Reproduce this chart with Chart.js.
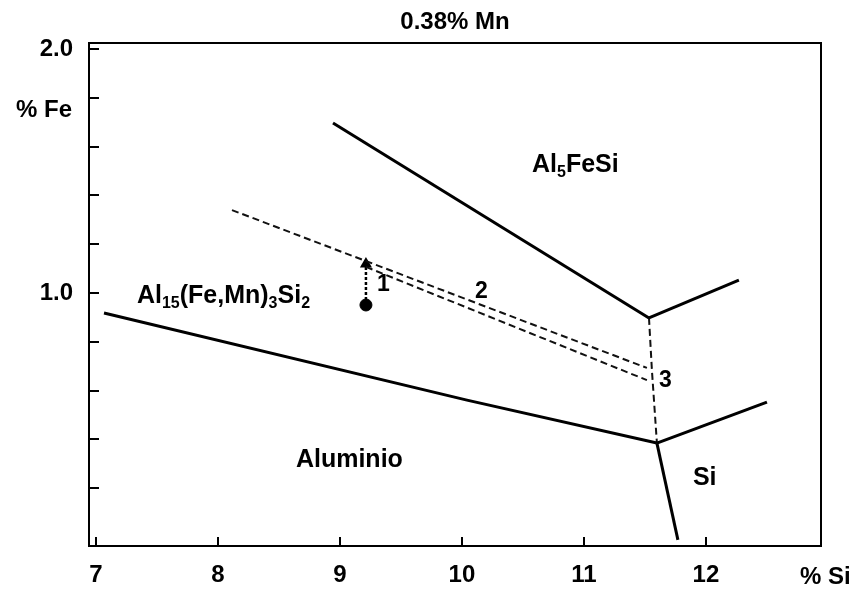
<!DOCTYPE html>
<html>
<head>
<meta charset="utf-8">
<script src="https://cdn.jsdelivr.net/npm/chart.js@4/dist/chart.umd.min.js"></script>
<style>
html,body{margin:0;padding:0;background:#fff;}
#wrap{width:858px;height:592px;position:relative;}
</style>
</head>
<body>
<div id="wrap"><canvas id="c" width="858" height="592"></canvas></div>
<script>
// ---- data ----
const xTicks = [7, 8, 9, 10, 11, 12];
const yTicks = [0.2, 0.4, 0.6, 0.8, 1.0, 1.2, 1.4, 1.6, 1.8, 2.0];
const yLabelled = [1.0, 2.0];

const lowerX = [7.066, 10.041, 11.598];
const lowerY = [0.918, 0.561, 0.385];
const siX = [11.598, 12.50];
const siY = [0.385, 0.553];
const eutX = [11.598, 11.77];
const eutY = [0.385, -0.012];
const upperX = [8.943, 11.533];
const upperY = [1.697, 0.898];
const upperRX = [11.533, 12.27];
const upperRY = [0.898, 1.053];
const valleyX = [11.533, 11.557, 11.598];
const valleyY = [0.898, 0.684, 0.385];
const path1X = [8.115, 11.516];
const path1Y = [1.340, 0.693];
const path2X = [9.213, 11.516];
const path2Y = [1.107, 0.643];
const alloyX = [9.213];
const alloyY = [0.951];
const arrowX = [9.213, 9.213];
const arrowY = [0.951, 1.119];

const titleText = '0.38% Mn';
// region labels: segments [text, isSubscript]
const regionLabels = [
  {x: 10.574, y: 1.496, parts: [['Al',0],['5',1],['FeSi',0]]},
  {x: 7.336, y: 0.959, parts: [['Al',0],['15',1],['(Fe,Mn)',0],['3',1],['Si',0],['2',1]]},
  {x: 8.639, y: 0.287, parts: [['Aluminio',0]]},
  {x: 11.893, y: 0.213, parts: [['Si',0]]}
];
const pathLabels = [
  {x: 9.303, y: 1.008, t: '1'},
  {x: 10.107, y: 0.980, t: '2'},
  {x: 11.615, y: 0.615, t: '3'}
];

const zip = (xs, ys) => xs.map((x, i) => ({x: x, y: ys[i]}));
const FONT = '"Liberation Sans", Arial, sans-serif';

function solid(xs, ys) {
  return {data: zip(xs, ys), showLine: true, borderColor: '#000', borderWidth: 3,
          pointRadius: 0, fill: false, tension: 0};
}
function dashed(xs, ys) {
  return {data: zip(xs, ys), showLine: true, borderColor: '#111', borderWidth: 2,
          borderDash: [7, 4], pointRadius: 0, fill: false, tension: 0};
}

const decor = {
  id: 'decor',
  afterDraw(chart) {
    const ctx = chart.ctx, a = chart.chartArea;
    const xs = chart.scales.x, ys = chart.scales.y;
    ctx.save();
    // frame
    ctx.strokeStyle = '#000';
    ctx.lineWidth = 2;
    ctx.strokeRect(a.left, a.top, a.right - a.left, a.bottom - a.top);
    // inward tick marks
    ctx.lineWidth = 2;
    ctx.beginPath();
    yTicks.forEach(v => {
      const p = Math.round(ys.getPixelForValue(v));
      if (p > a.top + 2) { ctx.moveTo(a.left, p); ctx.lineTo(a.left + 10, p); }
    });
    xTicks.forEach(v => {
      const p = Math.round(xs.getPixelForValue(v));
      if (p > a.left + 2) { ctx.moveTo(p, a.bottom); ctx.lineTo(p, a.bottom - 9); }
    });
    ctx.stroke();
    // axis names
    ctx.fillStyle = '#000';
    ctx.font = 'bold 24px ' + FONT;
    ctx.textBaseline = 'alphabetic';
    ctx.textAlign = 'right';
    ctx.fillText('% Fe', 72, 117);
    ctx.textAlign = 'left';
    ctx.fillText('% Si', 800, 584);
    // region labels with subscripts
    regionLabels.forEach(l => {
      let px = xs.getPixelForValue(l.x);
      const py = ys.getPixelForValue(l.y);
      l.parts.forEach(([t, sub]) => {
        ctx.font = sub ? 'bold 16px ' + FONT : 'bold 25px ' + FONT;
        ctx.fillText(t, px, py + (sub ? 5 : 0));
        px += ctx.measureText(t).width;
      });
    });
    ctx.font = 'bold 23px ' + FONT;
    pathLabels.forEach(l => {
      ctx.fillText(l.t, xs.getPixelForValue(l.x), ys.getPixelForValue(l.y));
    });
    ctx.restore();
  }
};

new Chart(document.getElementById('c'), {
  type: 'scatter',
  data: {
    datasets: [
      solid(lowerX, lowerY),
      solid(siX, siY),
      solid(eutX, eutY),
      solid(upperX, upperY),
      solid(upperRX, upperRY),
      dashed(valleyX, valleyY),
      dashed(path1X, path1Y),
      dashed(path2X, path2Y),
      {data: zip(arrowX, arrowY), showLine: true, borderColor: '#000', borderWidth: 2.5,
       borderDash: [3, 2], pointRadius: [0, 7], pointStyle: 'triangle',
       pointBackgroundColor: '#000', pointBorderColor: '#000', pointBorderWidth: 0},
      {data: zip(alloyX, alloyY), showLine: false, pointRadius: 6, pointStyle: 'circle',
       pointBackgroundColor: '#000', pointBorderColor: '#000'}
    ]
  },
  options: {
    responsive: false,
    animation: false,
    devicePixelRatio: 1,
    layout: {padding: {left: 0, right: 37, top: 0, bottom: 0}},
    plugins: {
      legend: {display: false},
      tooltip: {enabled: false},
      title: {display: true, text: titleText, fullSize: false, color: '#000',
              font: {family: FONT, size: 24, weight: 'bold'}, padding: {top: 8, bottom: 6.2}}
    },
    scales: {
      x: {
        type: 'linear', min: 6.943, max: 12.943,
        afterBuildTicks: s => { s.ticks = xTicks.map(v => ({value: v})); },
        afterFit: s => { s.height = 46; },
        grid: {display: false, drawTicks: false},
        border: {display: false},
        ticks: {color: '#000', padding: 15, maxRotation: 0,
                font: {family: FONT, size: 24, weight: 'bold'},
                callback: v => String(v)}
      },
      y: {
        type: 'linear', min: -0.037, max: 2.025,
        afterBuildTicks: s => { s.ticks = yTicks.map(v => ({value: v})); },
        afterFit: s => { s.width = 89; },
        grid: {display: false, drawTicks: false},
        border: {display: false},
        ticks: {color: '#000', padding: 16,
                font: {family: FONT, size: 24, weight: 'bold'},
                callback: v => yLabelled.some(t => Math.abs(t - v) < 1e-6) ? Number(v).toFixed(1) : ''}
      }
    }
  },
  plugins: [decor]
});
</script>
</body>
</html>
